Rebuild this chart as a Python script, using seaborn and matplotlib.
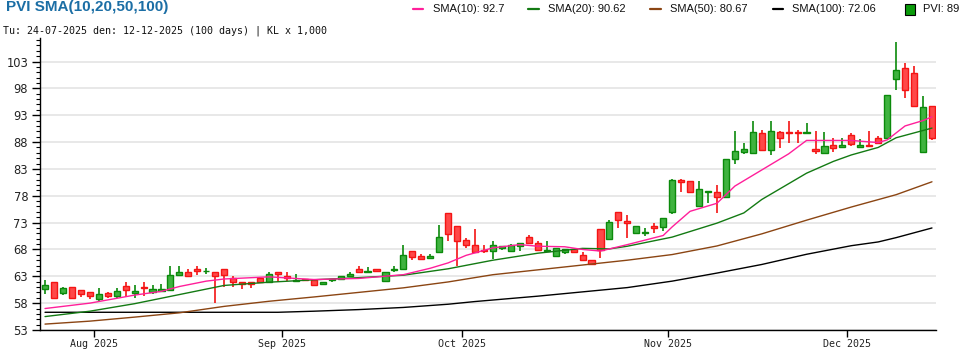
import numpy as np
import pandas as pd
import matplotlib
matplotlib.use("Agg")
import matplotlib.pyplot as plt
import seaborn as sns
from matplotlib.lines import Line2D
from matplotlib.patches import Rectangle
from matplotlib.ticker import MultipleLocator

sns.set_theme(style="white")
plt.rcParams['font.family'] = ['DejaVu Sans']

# ---------------- data ----------------
holidays = ["2025-09-01", "2025-09-02"]
dates = pd.bdate_range("2025-07-24", "2025-12-12")
dates = dates[~dates.isin(pd.to_datetime(holidays))]

opens = [60.58, 61.88, 59.83, 60.95, 60.39, 60.02, 58.71, 59.83, 59.27, 61.14,
         59.96, 60.95, 60.02, 60.20, 60.52, 63.19, 63.75, 64.30, 63.96, 63.75,
         64.30, 62.63, 61.88, 61.88, 62.63, 61.88, 63.75, 63.00, 62.13, 62.44,
         62.25, 61.50, 62.32, 62.50, 63.00, 64.30, 63.75, 64.30, 62.07, 64.20,
         64.43, 67.78, 66.85, 66.48, 67.60, 74.86, 72.44, 69.83, 68.90, 67.90,
         67.78, 68.28, 67.78, 68.71, 70.39, 69.27, 67.78, 66.85, 67.60, 68.16,
         66.95, 65.96, 71.75, 69.88, 74.92, 73.30, 71.00, 71.00, 72.43, 72.12,
         74.92, 80.96, 80.78, 76.05, 78.66, 78.66, 77.85, 84.76, 86.07, 85.95,
         89.77, 86.54, 89.96, 89.83, 89.96, 89.77, 86.79, 86.04, 87.53, 87.16,
         89.40, 87.16, 87.53, 88.84, 88.84, 99.83, 101.88, 100.95, 86.11, 94.80]
highs = [62.25, 61.88, 61.01, 60.95, 60.39, 60.02, 60.76, 60.02, 60.76, 61.88,
         61.32, 61.88, 61.32, 61.50, 64.86, 64.86, 64.30, 64.86, 64.49, 63.75,
         64.30, 63.12, 61.88, 61.88, 62.63, 63.75, 63.75, 63.75, 63.37, 62.44,
         62.25, 61.88, 62.50, 63.00, 63.75, 64.86, 64.68, 64.30, 63.75, 64.86,
         68.78, 67.78, 67.10, 67.22, 72.50, 74.86, 72.44, 70.14, 71.88, 68.84,
         69.65, 68.71, 69.02, 69.27, 70.64, 69.58, 69.52, 68.34, 68.16, 68.16,
         67.45, 65.96, 71.75, 73.49, 74.92, 74.43, 72.31, 72.00, 72.93, 73.80,
         81.15, 81.15, 80.78, 80.78, 78.91, 80.03, 84.82, 90.05, 87.88, 91.98,
         90.33, 91.88, 90.14, 91.88, 90.33, 91.51, 90.14, 89.83, 88.84, 88.84,
         89.77, 88.65, 90.14, 89.21, 96.85, 106.60, 102.63, 102.25, 96.66, 94.80]
lows = [59.77, 59.02, 59.58, 59.02, 59.20, 58.78, 58.28, 59.02, 59.02, 59.21,
        59.02, 59.40, 59.65, 60.02, 60.52, 63.00, 63.00, 63.19, 63.37, 58.09,
        61.07, 61.07, 60.70, 60.89, 61.88, 61.88, 61.88, 62.07, 62.13, 62.25,
        61.32, 61.50, 61.88, 62.25, 63.00, 63.56, 63.75, 63.75, 62.07, 63.75,
        64.43, 66.04, 66.10, 66.48, 67.60, 69.58, 64.93, 68.28, 67.60, 67.35,
        66.17, 67.90, 67.78, 67.72, 69.02, 67.97, 67.78, 66.85, 67.22, 67.29,
        65.96, 65.33, 66.33, 69.88, 72.06, 70.19, 71.00, 70.57, 71.00, 71.50,
        74.68, 78.78, 78.66, 76.05, 76.67, 74.86, 77.85, 83.83, 85.70, 85.95,
        86.54, 85.61, 86.91, 87.84, 87.84, 89.77, 85.80, 86.04, 86.17, 86.98,
        87.35, 87.16, 87.35, 87.91, 88.84, 97.78, 96.29, 94.68, 86.11, 88.40]
closes = [61.32, 59.02, 60.83, 59.02, 59.65, 59.27, 59.77, 59.27, 60.20, 60.39,
          60.20, 60.76, 60.58, 60.58, 63.19, 63.75, 63.00, 63.93, 64.02, 63.00,
          63.19, 61.88, 61.57, 61.57, 61.88, 63.37, 63.37, 62.63, 62.32, 62.25,
          61.32, 61.88, 62.50, 63.00, 63.37, 63.75, 63.93, 63.93, 63.75, 64.27,
          66.91, 66.66, 66.29, 66.85, 70.39, 70.95, 69.58, 68.90, 67.60, 67.72,
          68.90, 68.71, 68.84, 69.15, 69.27, 67.97, 67.97, 68.34, 68.16, 67.60,
          65.96, 65.33, 67.95, 73.06, 73.43, 72.87, 72.31, 71.19, 72.06, 73.80,
          80.96, 80.65, 78.66, 79.28, 78.91, 77.85, 84.82, 86.32, 86.69, 89.87,
          86.54, 90.14, 88.84, 89.71, 89.77, 89.96, 86.42, 87.35, 86.98, 87.53,
          87.72, 87.53, 87.35, 87.91, 96.85, 101.51, 97.60, 94.68, 94.61, 88.84]

# moving-average lines (day index -> value)
sma10_idx = [0, 5, 10, 13, 15, 18, 20, 25, 30, 35, 40, 43, 45, 47, 50, 53, 55, 58, 60, 62,
             65, 69, 70, 72, 75, 77, 80, 83, 85, 90, 93, 94, 96, 98, 99]
sma10_val = [57.0, 58.0, 59.5, 60.2, 61.1, 62.1, 62.5, 62.9, 62.4, 62.6, 63.3, 64.5, 65.5,
             66.9, 68.3, 68.9, 68.6, 68.5, 68.0, 67.7, 68.9, 70.6, 72.2, 75.1, 76.6, 79.8,
             82.8, 85.8, 88.3, 88.3, 87.9, 88.4, 91.0, 92.0, 92.7]
sma20_idx = [0, 5, 10, 15, 20, 25, 30, 35, 40, 45, 50, 55, 60, 63, 65, 70, 75, 78, 80, 85,
             88, 90, 93, 95, 97, 99]
sma20_val = [55.5, 56.5, 57.9, 59.6, 61.3, 61.9, 62.35, 62.75, 63.2, 64.4, 66.0, 67.3, 68.2,
             68.1, 68.6, 70.3, 72.9, 74.8, 77.3, 82.2, 84.4, 85.6, 87.0, 88.8, 89.7, 90.6]
sma50_idx = [0, 5, 10, 15, 20, 25, 30, 35, 40, 45, 50, 55, 60, 65, 70, 75, 80, 85, 90, 95, 99]
sma50_val = [54.1, 54.65, 55.4, 56.2, 57.4, 58.35, 59.15, 60.0, 60.85, 61.95, 63.3, 64.2,
             65.1, 66.0, 67.05, 68.65, 70.9, 73.45, 75.9, 78.2, 80.6]
sma100_idx = [0, 10, 20, 26, 30, 35, 40, 45, 48, 55, 60, 65, 70, 75, 80, 85, 90, 93, 95, 99]
sma100_val = [56.3, 56.3, 56.3, 56.3, 56.5, 56.8, 57.2, 57.8, 58.3, 59.3, 60.1, 60.9, 62.1,
              63.6, 65.2, 67.1, 68.7, 69.4, 70.2, 72.0]

legend_names = ["SMA(10)", "SMA(20)", "SMA(50)", "SMA(100)"]
legend_values = ["92.7", "90.62", "80.67", "72.06"]
last_close_label = "PVI: 89"
title = "PVI SMA(10,20,50,100)"
subtitle = "Tu: 24-07-2025 den: 12-12-2025 (100 days) | KL x 1,000"
yticks = [53, 58, 63, 68, 73, 78, 83, 88, 93, 98, 103]

# ---------------- styling ----------------
C_SMA = ["#ff1f9a", "#137a13", "#8b4513", "#000000"]
G_FILL, G_EDGE = "#3fb33f", "#0b8a0b"
R_FILL, R_EDGE = "#ff4848", "#f41414"

df = pd.DataFrame({"date": dates, "open": opens, "high": highs,
                   "low": lows, "close": closes})
df["idx"] = np.arange(len(df))
up = (df["close"] >= df["open"]).to_numpy()
fill = np.where(up, G_FILL, R_FILL)
edge = np.where(up, G_EDGE, R_EDGE)

W, H = 970, 350
fig = plt.figure(figsize=(W / 100, H / 100), dpi=100)
ax = fig.add_axes([40 / W, 20 / H, (936 - 40) / W, (330 - 38) / H])

# wicks and bodies
ax.vlines(df["idx"], df["low"], df["high"], colors=edge, lw=1.2, zorder=2)
body_b = np.minimum(df["open"], df["close"])
body_h = (df["close"] - df["open"]).abs().clip(lower=0.06)
ax.bar(df["idx"], body_h, bottom=body_b, width=0.68, color=fill,
       edgecolor=edge, linewidth=1.0, zorder=3)

# SMA lines
for xs, ys, c in [(sma100_idx, sma100_val, C_SMA[3]), (sma50_idx, sma50_val, C_SMA[2]),
                  (sma20_idx, sma20_val, C_SMA[1]), (sma10_idx, sma10_val, C_SMA[0])]:
    sns.lineplot(x=xs, y=ys, ax=ax, color=c, lw=1.0, zorder=4, legend=False)

# axes
ax.set_xlim(-0.56, 99.45)
ax.set_ylim(53, 53 + (330 - 38) / 5.37)
ax.set_yticks(yticks)
ax.yaxis.set_minor_locator(MultipleLocator(1))
ax.yaxis.grid(True, which="major", color="#e6e6e6", lw=1.3, zorder=0)
ax.xaxis.grid(False)
ax.set_axisbelow(True)

month_first = df.groupby(df["date"].dt.to_period("M"))["idx"].min()
month_first = month_first.iloc[1:]
ax.set_xticks(month_first.to_numpy() - 0.5)
ax.set_xticklabels([p.strftime("%b %Y") for p in month_first.index],
                   family="DejaVu Sans Mono", fontsize=7.2)
ax.set_xlabel("")
ax.set_ylabel("")

for s in ["top", "right"]:
    ax.spines[s].set_visible(False)
for s in ["left", "bottom"]:
    ax.spines[s].set_color("black")
    ax.spines[s].set_linewidth(1.0)

ax.tick_params(axis="y", which="major", left=True, length=6, width=1, color="black",
               labelsize=8.3, pad=2.5, labelcolor="#222222")
ax.tick_params(axis="y", which="minor", left=True, length=3, width=0.8, color="black")
ax.tick_params(axis="x", which="major", bottom=True, length=5, width=1, color="black",
               pad=1.5, labelcolor="#222222")

# title / subtitle
fig.text(6 / W, 1 - 0.5 / H, title, ha="left", va="top", fontsize=11,
         fontweight="bold", family="Liberation Sans", color="#1b6ea5")
fig.text(3 / W, 1 - 31 / H, subtitle, ha="left", va="center", fontsize=7.2,
         family="DejaVu Sans Mono", color="#111111")

# legend (manual)
ly = 1 - 9 / H
dash_x = [(413, 423), (528, 539), (650, 661), (773, 783)]
text_x = [433, 548, 670, 792]
for (x0, x1), tx, c, n, v in zip(dash_x, text_x, C_SMA, legend_names, legend_values):
    fig.add_artist(Line2D([x0 / W, x1 / W], [ly, ly], color=c, lw=1.6,
                          transform=fig.transFigure))
    fig.text(tx / W, ly, f"{n}: {v}", ha="left", va="center", fontsize=8,
             family="Liberation Sans", color="#111111")
fig.add_artist(Rectangle((905 / W, 1 - 14.5 / H), 10 / W, 10 / H, facecolor="#0a9a0a",
                         edgecolor="black", lw=0.8, transform=fig.transFigure))
fig.text(923 / W, ly, last_close_label, ha="left", va="center", fontsize=8,
         family="Liberation Sans", color="#111111")

fig.savefig("out.png", dpi=100)
